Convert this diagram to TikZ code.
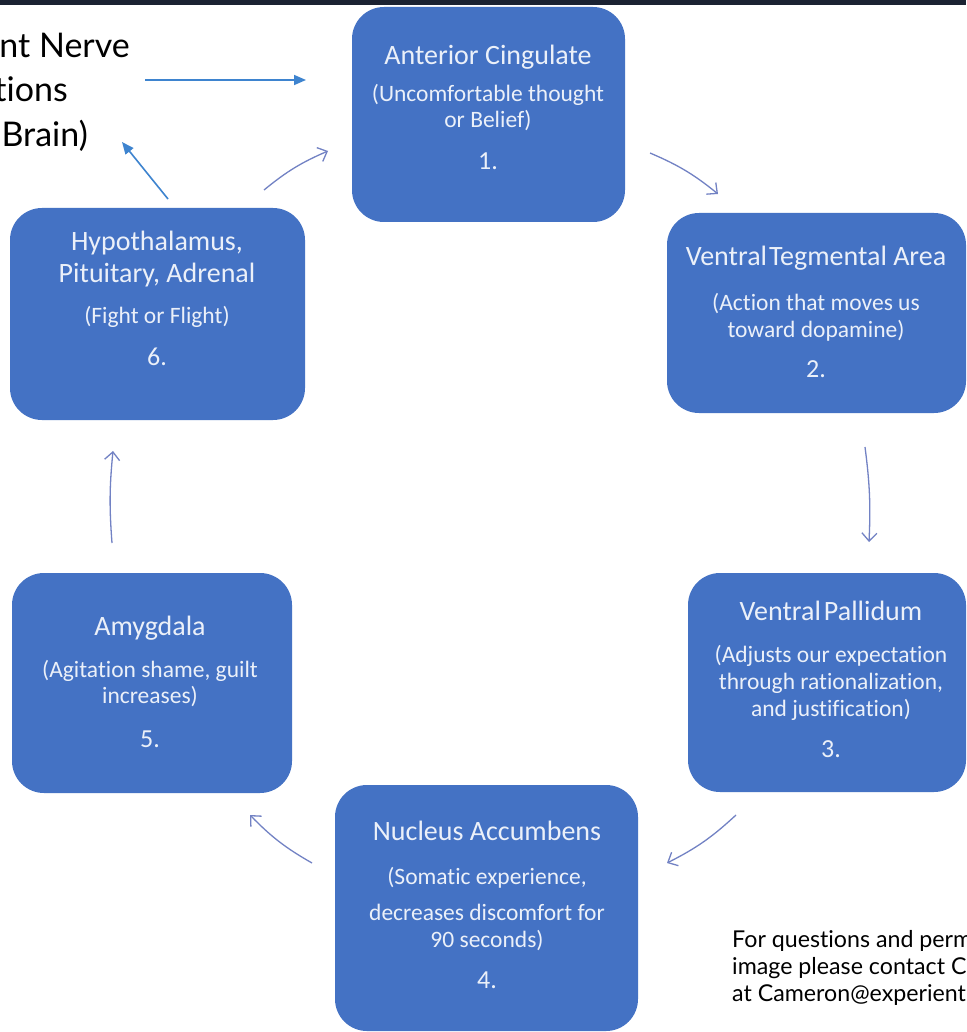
\documentclass[tikz,border=0pt]{standalone}
\usepackage{fontspec}
\setmainfont{Carlito}[Ligatures=NoCommon]
\newfontfamily\latofont{Lato}[Ligatures=NoCommon]
\usetikzlibrary{arrows.meta}
\definecolor{boxblue}{HTML}{4472C4}
\definecolor{boxtxt}{HTML}{EBF0F9}
\definecolor{barcol}{HTML}{1B2232}
\definecolor{cyccol}{HTML}{7282C4}
\definecolor{linkblue}{HTML}{3E84CF}
\begin{document}
\begin{tikzpicture}[x=1pt,y=-1pt,
 box/.style={fill=boxblue, rounded corners=32pt, inner sep=0pt},
 ttl/.style={text=boxtxt, font=\fontsize{28}{32}\selectfont, anchor=base, inner sep=0pt},
 sub/.style={text=boxtxt, font=\fontsize{23.5}{27}\selectfont, anchor=base, inner sep=0pt},
 num/.style={text=boxtxt, font=\fontsize{26}{30}\selectfont, anchor=base, inner sep=0pt},
 big/.style={text=black, font=\latofont\fontsize{34}{40}\selectfont, anchor=base east, inner sep=0pt},
 note/.style={text=black, font=\latofont\fontsize{23.2}{27}\selectfont, anchor=base west, inner sep=0pt},
 cyc/.style={draw=cyccol, line width=1.3pt, -{Straight Barb[length=8pt,width=15pt]}},
 link/.style={draw=linkblue, line width=1.6pt, -{Triangle[length=12pt,width=10pt]}}
]
\useasboundingbox (0,0) rectangle (966,1032);
\fill[white] (0,0) rectangle (966,1032);
\fill[barcol] (0,0) rectangle (966,5);

% boxes
\node[box, minimum width=273pt, minimum height=215pt] (n1) at (488.5,114.5) {};
\node[box, minimum width=299pt, minimum height=200pt] (n2) at (816.5,313) {};
\node[box, minimum width=278pt, minimum height=219pt] (n3) at (827,682.5) {};
\node[box, minimum width=303pt, minimum height=246pt] (n4) at (486.5,908) {};
\node[box, minimum width=280pt, minimum height=220pt] (n5) at (152,683) {};
\node[box, minimum width=295pt, minimum height=212pt] (n6) at (157.5,314) {};

% box 1
\node[ttl] (t1a) at (488,65) {Anterior Cingulate};
\node[sub] (t1b) at (488,102) {(Uncomfortable thought};
\node[sub] (t1c) at (488,128) {or Belief)};
\node[num] (t1d) at (488,170) {1.};
% box 2
\node[ttl] (t2a) at (816,265) {Ventral\hspace{2pt}Tegmental Area};
\node[sub] (t2b) at (816,310) {(Action that moves us};
\node[sub] (t2c) at (816,337) {toward dopamine)};
\node[num] (t2d) at (816,377) {2.};
% box 3
\node[ttl] (t3a) at (831,620) {Ventral\hspace{3pt}Pallidum};
\node[sub] (t3b) at (831,662) {(Adjusts our expectation};
\node[sub] (t3c) at (831,689) {through rationalization,};
\node[sub] (t3d) at (831,716) {and justification)};
\node[num] (t3e) at (831,757) {3.};
% box 4
\node[ttl] (t4a) at (487,840) {Nucleus Accumbens};
\node[sub] (t4b) at (487,884) {(Somatic experience,};
\node[sub] (t4c) at (487,920) {decreases discomfort for};
\node[sub] (t4d) at (487,947) {90 seconds)};
\node[num] (t4e) at (487,988) {4.};
% box 5
\node[ttl] (t5a) at (150,635) {Amygdala};
\node[sub] (t5b) at (150,677) {(Agitation shame, guilt};
\node[sub] (t5c) at (150,703) {increases)};
\node[num] (t5d) at (150,747) {5.};
% box 6
\node[ttl] (t6a) at (157,250) {Hypothalamus,};
\node[ttl] (t6b) at (157,282) {Pituitary, Adrenal};
\node[sub] (t6c) at (157,323) {(Fight or Flight)};
\node[num] (t6d) at (157,365) {6.};

% top-left text (cut by the left edge, as in the reference)
\node[big] (g1) at (130,58) {nt Nerve};
\node[big] (g2) at (68,102) {tions};
\node[big] (g3) at (88,147) {Brain)};

% bottom-right note (cut by the right edge, as in the reference)
\node[note] (m1) at (732,947) {For questions and perm};
\node[note] (m2) at (732,974) {image please contact C};
\node[note] (m3) at (732,1001) {at Cameron@experient};

% blue link arrows
\coordinate (la) at (145,80);
\coordinate (lb) at (306,80);
\coordinate (lc) at (168,199);
\coordinate (ld) at (122,142);
\draw[link] (la) -- (lb);
\draw[link] (lc) -- (ld);

% cycle arrows
\coordinate (c1s) at (650,153); \coordinate (c1e) at (718,194);
\coordinate (c2s) at (865,447); \coordinate (c2e) at (869,542);
\coordinate (c3s) at (736,815); \coordinate (c3e) at (667,863);
\coordinate (c4s) at (312,863); \coordinate (c4e) at (250,815);
\coordinate (c5s) at (112,543); \coordinate (c5e) at (113,451);
\coordinate (c6s) at (264,190); \coordinate (c6e) at (328,151);
\draw[cyc] (c1s) to[bend left=8] (c1e);
\draw[cyc] (c2s) to[bend left=5] (c2e);
\draw[cyc] (c3s) to[bend left=8] (c3e);
\draw[cyc] (c4s) to[bend left=8] (c4e);
\draw[cyc] (c5s) to[bend left=5] (c5e);
\draw[cyc] (c6s) to[bend left=8] (c6e);
\end{tikzpicture}
\end{document}
